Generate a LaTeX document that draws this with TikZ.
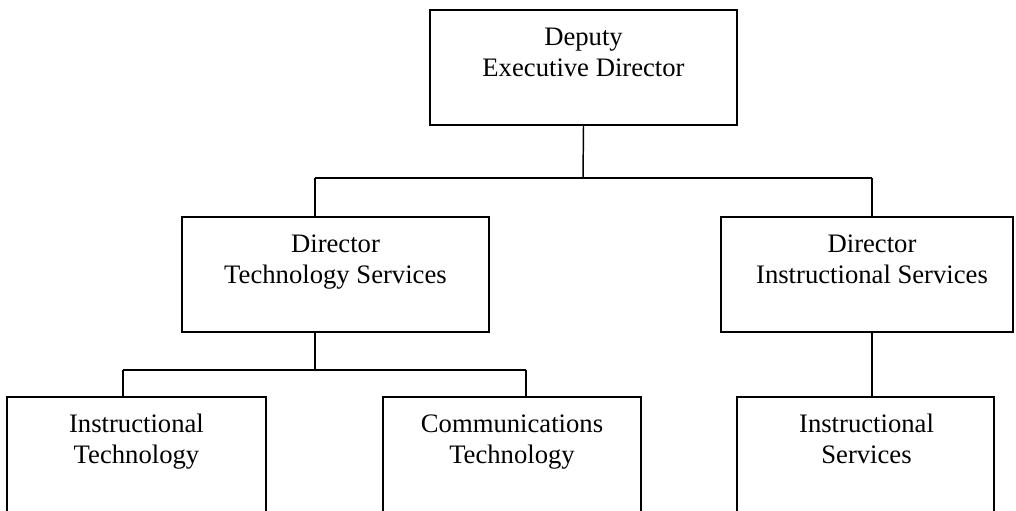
\documentclass[tikz,border=0pt]{standalone}
\usepackage{fontspec}
\setmainfont{Liberation Serif}
\begin{document}
\begin{tikzpicture}[x=0.75pt,y=-0.75pt,
  orgbox/.style={draw=black, line width=1.3pt, fill=none, inner sep=0pt, minimum height=86.25pt},
  lbl/.style={anchor=north, inner sep=0pt, align=center, font=\fontsize{20}{23.25}\selectfont},
  conn/.style={draw=black, line width=1.1pt}]
\useasboundingbox (0,0) rectangle (1016,510);
\clip (0,0) rectangle (1016,510);
% boxes
\node[orgbox, minimum width=230.25pt] (dep) at (583.5,67.5) {};
\node[orgbox, minimum width=230.25pt] (dts) at (335.5,274.5) {};
\node[orgbox, minimum width=219pt] (dis) at (867,274.5) {};
\node[orgbox, minimum width=194.25pt, minimum height=107.25pt] (it) at (136.5,468.5) {};
\node[orgbox, minimum width=193.5pt, minimum height=107.25pt] (ct) at (512,468.5) {};
\node[orgbox, minimum width=192.75pt, minimum height=107.25pt] (is) at (865.5,468.5) {};
% labels
\node[lbl] (depl) at ([yshift=-13pt]dep.north) {\rule{0pt}{14pt}Deputy\\Executive Director};
\node[lbl] (dtsl) at ([yshift=-13pt]dts.north) {\rule{0pt}{14pt}Director\\Technology Services};
\node[lbl] (disl) at ([xshift=3.75pt, yshift=-13pt]dis.north) {\rule{0pt}{14pt}Director\\Instructional Services};
\node[lbl] (itl) at ([yshift=-13pt]it.north) {\rule{0pt}{14pt}Instructional\\Technology};
\node[lbl] (ctl) at ([yshift=-13pt]ct.north) {\rule{0pt}{14pt}Communications\\Technology};
\node[lbl] (isl) at ([xshift=0.75pt, yshift=-13pt]is.north) {\rule{0pt}{14pt}Instructional\\Services};
% connector junctions
\coordinate (j0) at (583,178);
\coordinate (jL) at (315,178);
\coordinate (jR) at (872,178);
\coordinate (k0) at (315,370);
\coordinate (kL) at (123,370);
\coordinate (kR) at (526,370);
% connectors
\draw[conn] (dep.south) -- (j0);
\draw[conn] (jL) -- (jR);
\draw[conn] (jL) -- (jL |- dts.north);
\draw[conn] (jR) -- (jR |- dis.north);
\draw[conn] (k0 |- dts.south) -- (k0);
\draw[conn] (kL) -- (kR);
\draw[conn] (kL) -- (kL |- it.north);
\draw[conn] (kR) -- (kR |- ct.north);
\draw[conn] (jR |- dis.south) -- (jR |- is.north);
\end{tikzpicture}
\end{document}
